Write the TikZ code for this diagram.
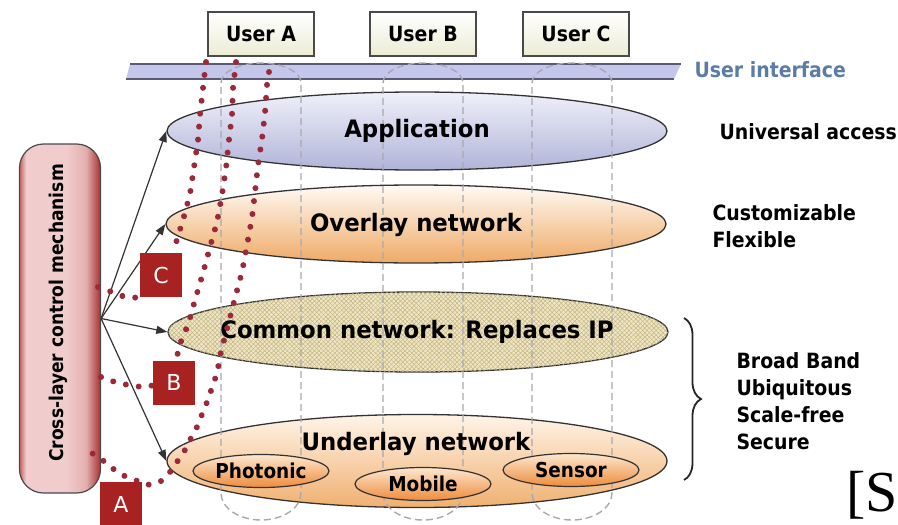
\documentclass[tikz,border=0pt]{standalone}
\usepackage{fontspec}
\setmainfont{DejaVu Sans}
\newfontfamily\lab{DejaVu Sans}[FakeStretch=0.9]
\newfontfamily\layfont{DejaVu Sans}[FakeStretch=0.95]
\newfontfamily\serifS{Liberation Serif}
\usetikzlibrary{shapes.geometric,arrows.meta,decorations.pathreplacing,decorations.markings,patterns.meta}
\definecolor{dotred}{HTML}{9A2A3A}
\definecolor{letred}{HTML}{A82222}
\definecolor{boxgray}{HTML}{4A4A4A}
\definecolor{userfill}{HTML}{ECECD4}
\definecolor{bandfill}{HTML}{C4C6EA}
\definecolor{bandline}{HTML}{5A5A78}
\definecolor{uiblue}{HTML}{5B7CA6}
\definecolor{apptop}{HTML}{F0F0FA}
\definecolor{appbot}{HTML}{B0B4D8}
\definecolor{ovtop}{HTML}{FFFAF4}
\definecolor{ovbot}{HTML}{EEAA66}
\definecolor{comfill}{HTML}{EFE6C4}
\definecolor{hatch}{HTML}{C4B484}
\definecolor{untop}{HTML}{FFF4E8}
\definecolor{unbot}{HTML}{F0B070}
\definecolor{subtop}{HTML}{FDE8D0}
\definecolor{subbot}{HTML}{EE8C3C}
\definecolor{ctrlred}{HTML}{A83030}
\definecolor{ctrlleft}{HTML}{C86060}
\definecolor{ctrlpink}{HTML}{F0CCCC}
\definecolor{ctrlmid}{HTML}{E4AEAE}
\definecolor{slicegray}{HTML}{A8A8B0}
\definecolor{arrowgray}{HTML}{333333}
\pgfdeclarehorizontalshading{ctrlshade}{100bp}{color(0bp)=(ctrlleft); color(25bp)=(ctrlleft);
  color(29bp)=(ctrlpink); color(54bp)=(ctrlpink); color(66bp)=(ctrlmid); color(75bp)=(ctrlred); color(100bp)=(ctrlred)}
\begin{document}
\begin{tikzpicture}[x=1pt,y=-1pt,
  userbox/.style={draw=boxgray,line width=1.2pt,top color=white,bottom color=userfill,
    minimum width=106pt,minimum height=44pt,inner sep=0pt,font=\lab\bfseries\fontsize{21}{21}\selectfont},
  layer/.style={ellipse,draw=black!80,line width=1.3pt,minimum width=500pt,inner sep=0pt},
  sub/.style={ellipse,draw=black!80,line width=1.2pt,minimum width=136pt,minimum height=33pt,
    top color=subtop,bottom color=subbot,inner sep=0pt},
  lbl/.style={font=\layfont\bfseries\fontsize{24}{24}\selectfont},
  sublbl/.style={font=\lab\bfseries\fontsize{20.5}{20.5}\selectfont},
  side/.style={font=\lab\bfseries\fontsize{21}{27}\selectfont,anchor=west,align=left},
  letterbox/.style={fill=letred,text=white,minimum width=42pt,minimum height=44pt,inner sep=0pt,
    font=\fontsize{22}{22}\selectfont},
  ctrlarrow/.style={-{Triangle[length=11pt,width=8pt]},draw=arrowgray,line width=1.2pt},
  reddots/.style={decoration={markings,
      mark=between positions 0 and 1 step 13pt with {\fill[dotred] (0pt,0pt) circle[radius=3pt];}},
    decorate},
  slice/.style={draw=slicegray,line width=1.4pt,dash pattern=on 7pt off 4pt},
]
\fill[white] (0,0) rectangle (898,525);
\useasboundingbox (0,0) rectangle (898,525);

% users
\node[userbox] (ua) at (261,34) {User A};
\node[userbox] (ub) at (423,34) {User B};
\node[userbox] (uc) at (576,34) {User C};

% user interface band
\fill[bandfill] (130,64) -- (681,64) -- (674,79) -- (126,79) -- cycle;
\draw[bandline,line width=1.5pt] (130,64) -- (681,64);
\draw[bandline,line width=1.5pt] (126,79) -- (674,79);
\node[anchor=west,text=uiblue,font=\lab\bfseries\fontsize{21}{21}\selectfont] (ui) at (691,70) {User interface};

% layers
\node[layer,minimum height=78pt,top color=apptop,bottom color=appbot] (app) at (417,131) {};
\node[layer,minimum height=78pt,top color=ovtop,bottom color=ovbot] (ov) at (416,224) {};
\node[layer,minimum height=80pt,fill=comfill,
  postaction={pattern={Lines[angle=45,distance=3.2pt,line width=0.5pt]},pattern color=hatch},
  postaction={pattern={Lines[angle=-45,distance=3.2pt,line width=0.5pt]},pattern color=hatch}] (com) at (418,332) {};
\node[layer,minimum height=93pt,top color=untop,bottom color=unbot] (un) at (417,461) {};

% user slices
\foreach \c in {261,423,572}{
  \draw[slice] (\c-40,83) arc[start angle=180,end angle=360,x radius=40,y radius=20]
    -- (\c+40,493) arc[start angle=0,end angle=180,x radius=40,y radius=27] -- cycle;
}

% sub networks
\node[sub] (ph) at (261,471) {};
\node[sub] (mo) at (423,484) {};
\node[sub] (se) at (571,470) {};

% labels
\node[lbl] (appl) at (app.center) {Application};
\node[lbl] (ovl) at (416,225) {Overlay network};
\node[lbl] (coml) at (417,332) {Common network: Replaces IP};
\node[lbl] (unl) at (416,444) {Underlay network};
\node[sublbl] (phl) at (ph.center) {Photonic};
\node[sublbl] (mol) at (mo.center) {Mobile};
\node[sublbl] (sel) at (se.center) {Sensor};

% control box
\node[draw=boxgray,line width=1.2pt,rounded corners=24pt,minimum width=81pt,minimum height=349pt,
  shading=ctrlshade] (ctrl) at (60,318.5) {};
\node[rotate=90,font=\lab\bfseries\fontsize{19}{19}\selectfont] (ctrll) at (58,313) {Cross-layer control mechanism};

% arrows
\draw[ctrlarrow] (ctrl.east) -- (app.west);
\draw[ctrlarrow] (ctrl.east) -- (ov.west);
\draw[ctrlarrow] (ctrl.east) -- (com.west);
\draw[ctrlarrow] (ctrl.east) -- (un.west);

% dotted control paths
\coordinate (c1) at (98,287);
\coordinate (c2) at (206,62);
\coordinate (b1) at (101,377);
\coordinate (b2) at (236,62);
\coordinate (a1) at (90,452);
\coordinate (a2) at (269,72);
\path[reddots] (c1) -- (112,292) -- (125,297) -- (142,298);
\path[reddots] (c2) -- (203,88) -- (200,115) -- (198,140) -- (194,167) -- (190,194) -- (183,220) -- (175,246);
\path[reddots] (b1) -- (115,382) -- (128,385) -- (142,387) -- (156,385);
\path[reddots] (b2) -- (233,88) -- (232,115) -- (229,140) -- (226,168) -- (222,195) -- (217,222) -- (210,247) -- (203,273) -- (195,300) -- (188,325) -- (182,338) -- (177,356);
\path[reddots] (a2) -- (267,85) -- (265,113) -- (262,139) -- (258,165) -- (255,192) -- (252,218) -- (247,245) -- (242,272) -- (235,298) -- (228,325) -- (221,352) -- (217,373) -- (212,388) -- (207,402) -- (197,427) -- (190,440) -- (185,450) -- (177,462) -- (170,472) -- (160,482) -- (147,485) -- (135,480) -- (122,475) -- (112,468) -- (100,458) -- (a1);

% letter boxes
\node[letterbox] (lc) at (161,275) {C};
\node[letterbox] (lb) at (174,382.5) {B};
\node[letterbox] (la) at (121,504) {A};

% right-hand texts
\node[side] (t1) at (716,132) {Universal access};
\node[side] (t2) at (709,226) {Customizable\\Flexible};
\node[side] (t3) at (733,401) {Broad Band\\Ubiquitous\\Scale-free\\Secure};
\draw[decorate,decoration={brace,amplitude=17pt},draw=black!85,line width=1.8pt] (684,318) -- (684,480);
\node[anchor=base west,inner sep=0pt,font=\serifS\fontsize{58}{58}\selectfont] (cite) at (846,511) {[S};
\end{tikzpicture}
\end{document}
